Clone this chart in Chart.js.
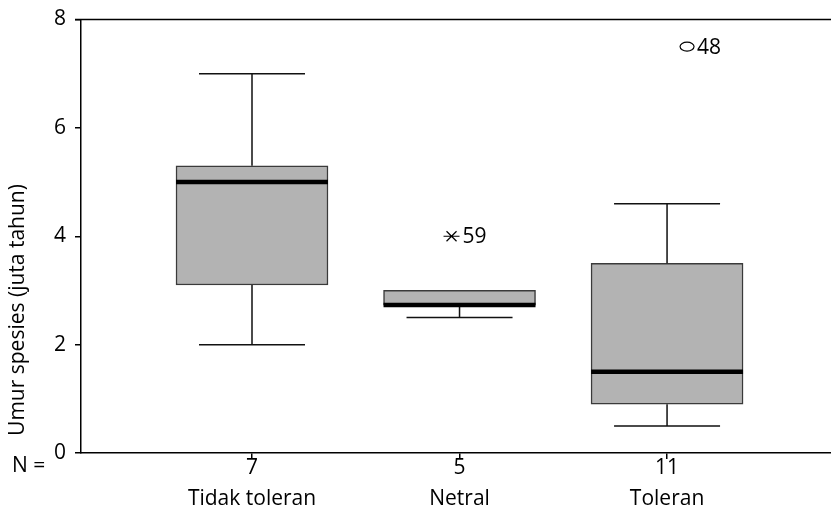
<!DOCTYPE html>
<html>
<head>
<meta charset="utf-8">
<script src="https://cdn.jsdelivr.net/npm/chart.js@4"></script>
<style>
  html, body { margin: 0; padding: 0; background: #fff; }
  #wrap { width: 831px; height: 514px; }
</style>
</head>
<body>
<div id="wrap"><canvas id="boxChart" width="831" height="514"></canvas></div>
<script>
// data
const categories = ['Tidak toleran', 'Netral', 'Toleran'];
const counts = [7, 5, 11];
const whiskerLow = [2.0, 2.5, 0.5];
const q1 = [3.1, 2.73, 0.9];
const medians = [5.0, 2.73, 1.5];
const q3 = [5.3, 3.0, 3.5];
const whiskerHigh = [7.0, 3.0, 4.6];
const outlierValues = [null, 4.0, 7.5];
const outlierLabels = [null, '59', '48'];
const outlierMarks = [null, 'star', 'circle'];
const yTicks = [0, 2, 4, 6, 8];
const yTitle = 'Umur spesies (juta tahun)';

const FONT = "'Open Sans', 'Noto Sans', sans-serif";
const FSIZE = 21;
const catPos = categories.map((c, i) => i + 1);

// whiskers, medians, outliers and extra text
const boxExtras = {
    id: 'boxExtras',
    afterDatasetsDraw(chart) {
        const ctx = chart.ctx;
        const xs = chart.scales.x, ys = chart.scales.y;
        const area = chart.chartArea;
        ctx.save();
        // top frame line
        ctx.strokeStyle = '#000';
        ctx.lineWidth = 1.5;
        ctx.beginPath();
        ctx.moveTo(area.left - 6, area.top);
        ctx.lineTo(area.right, area.top);
        ctx.stroke();

        catPos.forEach((p, i) => {
            const cx = xs.getPixelForValue(p);
            const capHalf = 53, boxHalf = 76;
            ctx.strokeStyle = '#111';
            ctx.lineWidth = 1.5;
            ctx.beginPath();
            if (whiskerHigh[i] > q3[i]) {
                ctx.moveTo(cx, ys.getPixelForValue(q3[i]));
                ctx.lineTo(cx, ys.getPixelForValue(whiskerHigh[i]));
                ctx.moveTo(cx - capHalf, ys.getPixelForValue(whiskerHigh[i]));
                ctx.lineTo(cx + capHalf, ys.getPixelForValue(whiskerHigh[i]));
            }
            if (whiskerLow[i] < q1[i]) {
                ctx.moveTo(cx, ys.getPixelForValue(q1[i]));
                ctx.lineTo(cx, ys.getPixelForValue(whiskerLow[i]));
                ctx.moveTo(cx - capHalf, ys.getPixelForValue(whiskerLow[i]));
                ctx.lineTo(cx + capHalf, ys.getPixelForValue(whiskerLow[i]));
            }
            ctx.stroke();

            // median
            ctx.strokeStyle = '#000';
            ctx.lineWidth = 4.5;
            ctx.beginPath();
            const my = ys.getPixelForValue(medians[i]);
            ctx.moveTo(cx - boxHalf, my);
            ctx.lineTo(cx + boxHalf, my);
            ctx.stroke();

            // outliers
            if (outlierValues[i] !== null) {
                const oy = ys.getPixelForValue(outlierValues[i]);
                let ox, tx;
                ctx.lineWidth = 1.2;
                ctx.strokeStyle = '#000';
                if (outlierMarks[i] === 'circle') {
                    ox = cx + 20;
                    ctx.beginPath();
                    ctx.ellipse(ox, oy, 7, 4.5, 0, 0, Math.PI * 2);
                    ctx.stroke();
                    tx = ox + 10;
                } else {
                    ox = cx - 8;
                    ctx.beginPath();
                    ctx.moveTo(ox - 8, oy); ctx.lineTo(ox + 8, oy);
                    ctx.moveTo(ox - 5, oy - 5); ctx.lineTo(ox + 5, oy + 5);
                    ctx.moveTo(ox - 5, oy + 5); ctx.lineTo(ox + 5, oy - 5);
                    ctx.stroke();
                    tx = ox + 11;
                }
                ctx.fillStyle = '#000';
                ctx.font = FSIZE + 'px ' + FONT;
                ctx.textAlign = 'left';
                ctx.textBaseline = 'middle';
                ctx.fillText(outlierLabels[i], tx, oy + 1);
            }
        });

        // "N =" label
        ctx.fillStyle = '#000';
        ctx.font = FSIZE + 'px ' + FONT;
        ctx.textAlign = 'left';
        ctx.textBaseline = 'middle';
        ctx.fillText('N =', 12, area.bottom + 13);

        // y axis title
        ctx.translate(18, 310);
        ctx.rotate(-Math.PI / 2);
        ctx.textAlign = 'center';
        ctx.fillText(yTitle, 0, 0);
        ctx.restore();
    }
};

const ctx = document.getElementById('boxChart').getContext('2d');
new Chart(ctx, {
    type: 'bar',
    data: {
        datasets: [{
            data: catPos.map((p, i) => ({ x: p, y: [q1[i], q3[i]] })),
            backgroundColor: '#b3b3b3',
            borderColor: '#3a3a3a',
            borderWidth: 1.5,
            borderSkipped: false,
            barThickness: 152
        }]
    },
    options: {
        responsive: false,
        animation: false,
        layout: { padding: { top: 17, right: 0, left: 0, bottom: 0 } },
        plugins: { legend: { display: false }, tooltip: { enabled: false } },
        scales: {
            x: {
                type: 'linear',
                offset: false,
                min: 0.176,
                max: 3.79,
                afterBuildTicks: (scale) => { scale.ticks = catPos.map(v => ({ value: v })); },
                afterFit: (scale) => { scale.height = 61; },
                ticks: {
                    color: '#000',
                    font: { family: FONT, size: FSIZE, lineHeight: 1.48 },
                    padding: -7,
                    maxRotation: 0,
                    autoSkip: false,
                    callback: (v) => {
                        const i = catPos.indexOf(v);
                        return i < 0 ? '' : [String(counts[i]), categories[i]];
                    }
                },
                grid: { display: true, offset: false, drawOnChartArea: false, drawTicks: true, tickLength: 6, color: '#000', lineWidth: 1.5 },
                border: { display: true, color: '#000', width: 1.5 }
            },
            y: {
                min: 0,
                max: 8,
                afterBuildTicks: (scale) => { scale.ticks = yTicks.map(v => ({ value: v })); },
                afterFit: (scale) => { scale.width = 81; },
                ticks: {
                    color: '#000',
                    font: { family: FONT, size: FSIZE, lineHeight: 1 },
                    padding: 9
                },
                grid: { display: true, drawOnChartArea: false, drawTicks: true, tickLength: 6, color: '#000', lineWidth: 1.5 },
                border: { display: true, color: '#000', width: 1.5 }
            }
        }
    },
    plugins: [boxExtras]
});
</script>
</body>
</html>
